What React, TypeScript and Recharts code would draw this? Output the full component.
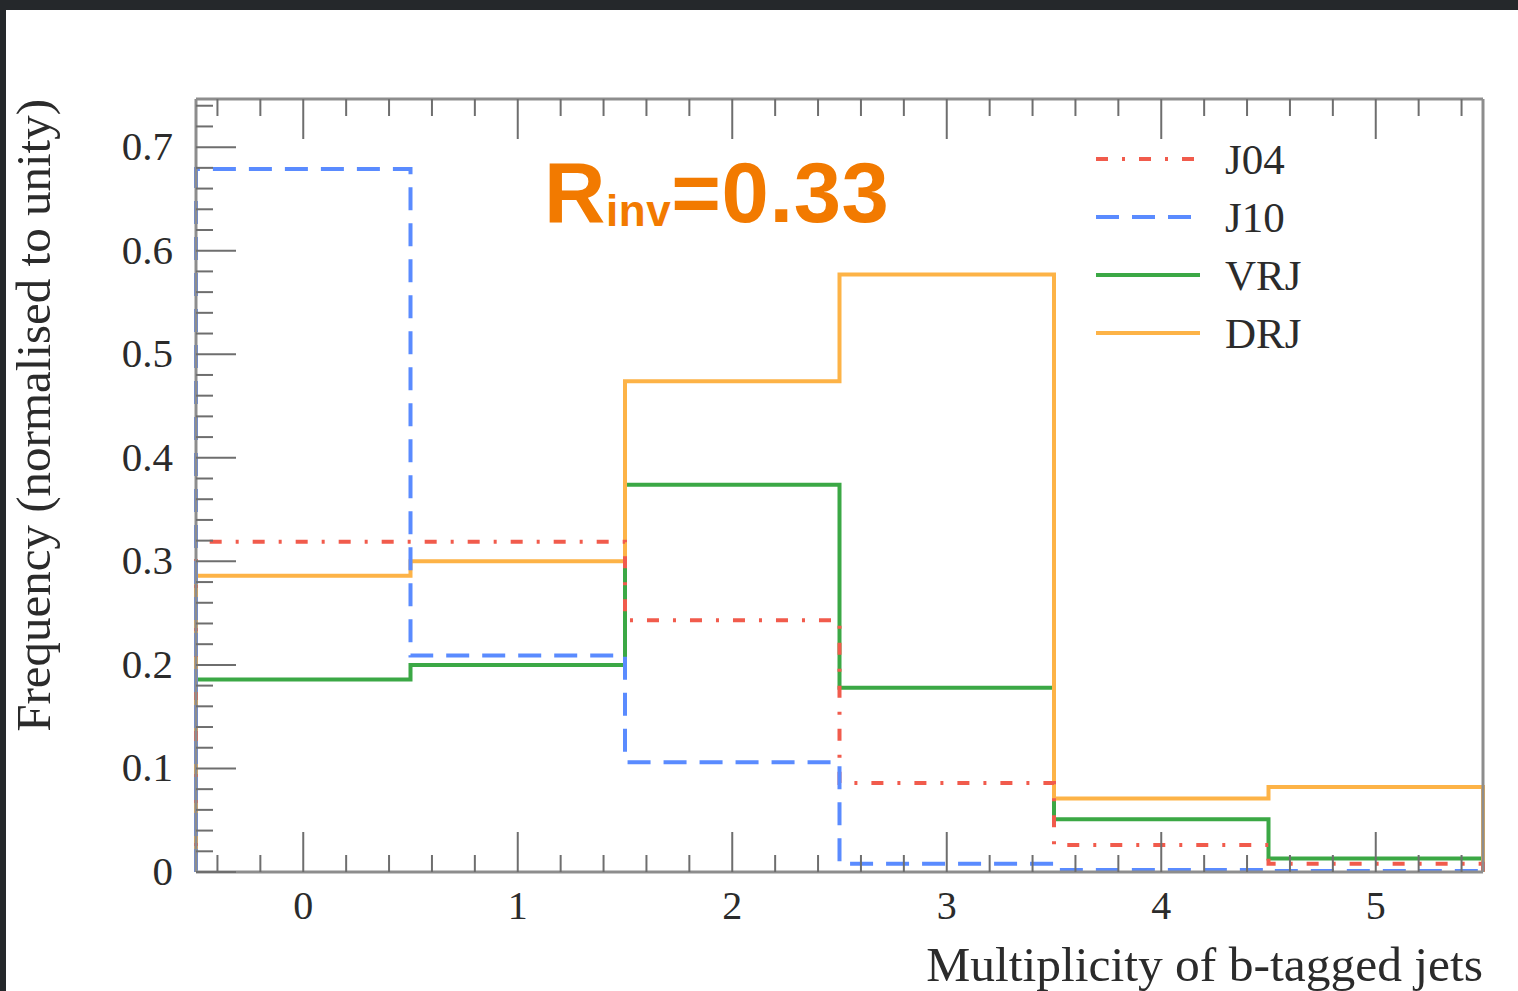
import { Legend, Line, LineChart, XAxis, YAxis } from 'recharts';

// bin edges of the histogram (multiplicity 0..5, unit-wide bins)
const BIN_EDGES = [-0.5, 0.5, 1.5, 2.5, 3.5, 4.5, 5.5];

// normalised frequencies per bin
const J04 = [0.319, 0.319, 0.243, 0.086, 0.026, 0.008];
const J10 = [0.679, 0.209, 0.106, 0.008, 0.002, 0.001];
const VRJ = [0.186, 0.2, 0.374, 0.178, 0.051, 0.013];
const DRJ = [0.286, 0.3, 0.474, 0.577, 0.071, 0.082];

const X_MAJOR = [0, 1, 2, 3, 4, 5];
const X_LABELS = ['0', '1', '2', '3', '4', '5'];
const Y_MAJOR = [0, 0.1, 0.2, 0.3, 0.4, 0.5, 0.6, 0.7];
const Y_LABELS = ['0', '0.1', '0.2', '0.3', '0.4', '0.5', '0.6', '0.7'];

const X_DOMAIN: [number, number] = [-0.5, 5.5];
const Y_DOMAIN: [number, number] = [0, 0.7465];

// minor tick grids
const X_TICKS = Array.from({ length: 30 }, (_, i) => +(-0.4 + i * 0.2).toFixed(1));
const Y_TICKS = Array.from({ length: 38 }, (_, i) => +(i * 0.02).toFixed(2));

const SERIES = [
  { key: 'j04', name: 'J04', values: J04, color: '#F15B4C', dash: '12 14 3 14' },
  { key: 'j10', name: 'J10', values: J10, color: '#5A8BFF', dash: '23 13' },
  { key: 'vrj', name: 'VRJ', values: VRJ, color: '#3BA845', dash: undefined },
  { key: 'drj', name: 'DRJ', values: DRJ, color: '#FDB347', dash: undefined },
];
// drawing order (last on top)
const DRAW_ORDER = ['vrj', 'drj', 'j04', 'j10'];

type Row = { x: number } & Record<string, number>;

function buildRows(): Row[] {
  const rows: Row[] = [];
  const at = (x: number, pick: (vals: number[]) => number) => {
    const row: Row = { x } as Row;
    SERIES.forEach((s) => {
      row[s.key] = pick(s.values);
    });
    rows.push(row);
  };
  const last = BIN_EDGES.length - 1;
  at(BIN_EDGES[0], () => 0);
  for (let i = 0; i < last; i++) at(BIN_EDGES[i], (v) => v[i]);
  at(BIN_EDGES[last], (v) => v[last - 1]);
  at(BIN_EDGES[last], () => 0);
  return rows;
}

const rows = buildRows();

const FONT = '"Liberation Serif", "DejaVu Serif", serif';
const TEXT = '#2b2b2b';
const TICK = '#6e6e6e';
const FRAME = '#8d8d8d';
const MAJOR_LEN = 40;
const MINOR_LEN = 17;

const near = (a: number, b: number) => Math.abs(a - b) < 1e-6;

function makeTick(side: 'bottom' | 'top' | 'left' | 'right') {
  return (props: any) => {
    const { x, y, payload } = props;
    const v: number = payload.value;
    const isX = side === 'bottom' || side === 'top';
    const majors = isX ? X_MAJOR : Y_MAJOR;
    const idx = majors.findIndex((m) => near(m, v));
    const len = idx >= 0 ? MAJOR_LEN : MINOR_LEN;
    let x2 = x;
    let y2 = y;
    if (side === 'bottom') y2 = y - len;
    if (side === 'top') y2 = y + len;
    if (side === 'left') x2 = x + len;
    if (side === 'right') x2 = x - len;
    return (
      <g>
        <line x1={x} y1={y} x2={x2} y2={y2} stroke={TICK} strokeWidth={2} />
        {side === 'bottom' && idx >= 0 && (
          <text x={x} y={y + 47} textAnchor="middle" fontFamily={FONT} fontSize={40} fill={TEXT}>
            {X_LABELS[idx]}
          </text>
        )}
        {side === 'left' && idx >= 0 && (
          <text x={x - 23} y={y + 13} textAnchor="end" fontFamily={FONT} fontSize={41} fill={TEXT}>
            {Y_LABELS[idx]}
          </text>
        )}
      </g>
    );
  };
}

function LegendBox() {
  return (
    <div style={{ fontFamily: FONT, color: TEXT }}>
      {SERIES.map((s) => (
        <div key={s.key} style={{ display: 'flex', alignItems: 'center', height: 58 }}>
          <svg width={104} height={10} style={{ display: 'block' }}>
            <line
              x1={0}
              y1={5}
              x2={104}
              y2={5}
              stroke={s.color}
              strokeWidth={4}
              strokeDasharray={s.dash}
            />
          </svg>
          <span style={{ marginLeft: 25, fontSize: 43, lineHeight: 1 }}>{s.name}</span>
        </div>
      ))}
    </div>
  );
}

export default function App() {
  return (
    <div
      style={{
        position: 'absolute',
        left: 0,
        top: 0,
        width: 1518,
        height: 991,
        background: '#25282b',
        overflow: 'hidden',
      }}
    >
      <div
        style={{ position: 'absolute', left: 6, top: 10, right: 0, bottom: 0, background: '#ffffff' }}
      />
      <div style={{ position: 'absolute', left: 0, top: 0 }}>
        <LineChart
          width={1518}
          height={991}
          data={rows}
          margin={{ top: 79, right: 15, bottom: 0, left: 0 }}
        >
          <XAxis
            dataKey="x"
            type="number"
            domain={X_DOMAIN}
            ticks={X_TICKS}
            interval={0}
            height={119}
            tickSize={0}
            tickMargin={0}
            tickLine={false}
            axisLine={{ stroke: FRAME, strokeWidth: 3 }}
            tick={makeTick('bottom')}
            label={{
              content: ({ viewBox }: any) => (
                <text
                  x={viewBox.x + viewBox.width}
                  y={viewBox.y + 109}
                  textAnchor="end"
                  fontFamily={FONT}
                  fontSize={49.5}
                  fill={TEXT}
                >
                  Multiplicity of b-tagged jets
                </text>
              ),
            }}
          />
          <XAxis
            xAxisId="top"
            orientation="top"
            dataKey="x"
            type="number"
            domain={X_DOMAIN}
            ticks={X_TICKS}
            interval={0}
            height={20}
            tickSize={0}
            tickMargin={0}
            tickLine={false}
            axisLine={{ stroke: FRAME, strokeWidth: 3 }}
            tick={makeTick('top')}
          />
          <YAxis
            type="number"
            domain={Y_DOMAIN}
            ticks={Y_TICKS}
            interval={0}
            width={196}
            tickSize={0}
            tickMargin={0}
            tickLine={false}
            axisLine={{ stroke: FRAME, strokeWidth: 3 }}
            tick={makeTick('left')}
            label={{
              content: ({ viewBox }: any) => (
                <text
                  x={50}
                  y={viewBox.y}
                  transform={`rotate(-90, 50, ${viewBox.y})`}
                  textAnchor="end"
                  fontFamily={FONT}
                  fontSize={49}
                  fill={TEXT}
                >
                  Frequency (normalised to unity)
                </text>
              ),
            }}
          />
          <YAxis
            yAxisId="right"
            orientation="right"
            type="number"
            domain={Y_DOMAIN}
            ticks={Y_TICKS}
            interval={0}
            width={20}
            tickSize={0}
            tickMargin={0}
            tickLine={false}
            axisLine={{ stroke: FRAME, strokeWidth: 3 }}
            tick={makeTick('right')}
          />
          {DRAW_ORDER.map((k) => {
            const s = SERIES.find((d) => d.key === k)!;
            return (
              <Line
                key={s.key}
                dataKey={s.key}
                name={s.name}
                type="stepAfter"
                stroke={s.color}
                strokeWidth={4}
                strokeDasharray={s.dash}
                dot={false}
                activeDot={false}
                isAnimationActive={false}
              />
            );
          })}
          <Legend
            layout="vertical"
            align="center"
            verticalAlign="middle"
            wrapperStyle={{ left: 1096, top: 130, width: 260 }}
            content={() => <LegendBox />}
          />
        </LineChart>
      </div>
      <svg
        width={400}
        height={110}
        style={{ position: 'absolute', left: 530, top: 140, overflow: 'visible' }}
      >
        <text
          x={14}
          y={82}
          fontFamily='"Liberation Sans", Arial, sans-serif'
          fontWeight={700}
          fontSize={85}
          letterSpacing={0.6}
          fill="#F27A00"
        >
          R
          <tspan fontSize={44} dy={4}>
            inv
          </tspan>
          <tspan dy={-4}>=0.33</tspan>
        </text>
      </svg>
    </div>
  );
}
